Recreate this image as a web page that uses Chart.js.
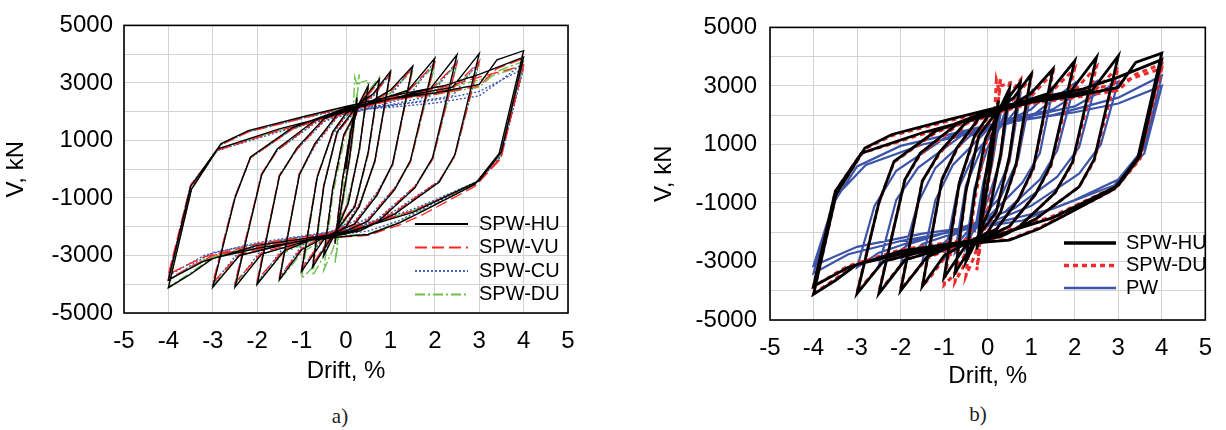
<!DOCTYPE html>
<html>
<head>
<meta charset="utf-8">
<script src="https://cdn.jsdelivr.net/npm/chart.js@4.4.1/dist/chart.umd.min.js"></script>
<style>
html, body { margin: 0; padding: 0; background: #fff; }
body { width: 1226px; height: 430px; position: relative; overflow: hidden; }
canvas { position: absolute; top: 0; }
#chartA { left: 0; width: 600px; height: 400px; }
#chartB { left: 620px; width: 606px; height: 400px; }
.cap { position: absolute; width: 60px; text-align: center; font-family: 'Liberation Serif', 'Times New Roman', serif; font-size: 21px; line-height: 24px; color: #222; }
</style>
</head>
<body>
<canvas id="chartA" width="600" height="400"></canvas>
<canvas id="chartB" width="606" height="400"></canvas>
<div class="cap" style="left:310px; top:404px;">a)</div>
<div class="cap" style="left:948px; top:402px;">b)</div>
<script>
'use strict';

// drift (%) / shear (kN)
const xTicks = [-5, -4, -3, -2, -1, 0, 1, 2, 3, 4, 5];
const yTickLabels = [5000, 3000, 1000, -1000, -3000, -5000];

const spwHU = [
  [0,0],[0.12,1400],[0.25,2500],[0.08,400],[-0.1,-1300],[-0.25,-2600],[-0.08,-400],[0.1,1300],
  [0.3,2300],[0.5,2900],[0.3,700],[0.05,-1200],[-0.3,-2400],[-0.5,-3000],[-0.3,-700],[-0.05,1200],
  [0.35,2350],[0.75,3130],[0.5,600],[0.2,-1300],[-0.3,-2300],[-0.75,-3400],[-0.5,-600],[-0.2,1300],
  [0.3,2300],[0.6,2600],[1.0,3400],[0.65,300],[0.3,-1300],[0,-2000],[-0.5,-2450],[-1.0,-3550],[-0.65,-300],[-0.3,1300],[0,1950],
  [0.5,2300],[1.0,2750],[1.5,3580],[1.05,200],[0.7,-900],[0.2,-1900],[-0.4,-2300],[-1.0,-2800],[-1.5,-3850],[-1.05,-200],[-0.7,900],[-0.2,1900],
  [0.6,2350],[1.4,2750],[2.0,3860],[1.45,300],[1.1,-700],[0.5,-1800],[0,-2150],[-0.7,-2400],[-1.4,-2850],[-2.0,-4000],[-1.5,-250],[-1.1,750],[-0.5,1750],[0,2050],
  [0.9,2400],[1.9,2800],[2.5,3980],[1.95,400],[1.55,-650],[0.7,-1850],[0,-2250],[-0.9,-2500],[-1.9,-2950],[-2.5,-4100],[-1.9,-200],[-1.55,700],[-0.7,1700],[0,2100],
  [1.0,2450],[2.4,2850],[3.0,4020],[2.45,500],[2.1,-450],[1.1,-1550],[0.3,-2150],[-1.2,-2550],[-2.4,-3000],[-3.0,-4100],[-2.5,-1000],[-2.15,425],[-1.2,1450],[0,2130],
  [1.0,2450],[2.0,2650],[3.0,2950],[3.4,3800],[4.0,4120],[3.45,550],[2.9,-530],[1.7,-1480],[1.18,-1880],[0.5,-2270],[0,-2330],[-1.0,-2500],[-2.0,-2750],[-3.0,-3100],[-3.5,-3650],[-4.0,-4120],[-3.48,-700],[-2.82,880],[-2.2,1340],[-0.9,1850],[0,2180],
  [1.2,2600],[2.2,2900],[3.0,3300],[4.0,3900],[3.5,600],[3.0,-400],[1.5,-1500],[0,-2200],[-2.0,-2650],[-3.2,-3200],[-4.0,-3850],[-3.5,-600],[-2.9,700],[-1.5,1400],[0,2000]
];

const spwVU = [
  [0,0],[0.12,1300],[0.25,2450],[0.08,350],[-0.1,-1250],[-0.25,-2500],[-0.08,-350],[0.1,1250],
  [0.3,2250],[0.5,2850],[0.3,650],[0.05,-1150],[-0.3,-2350],[-0.5,-2950],[-0.3,-650],[-0.05,1150],
  [0.35,2300],[0.75,3050],[0.5,550],[0.2,-1250],[-0.3,-2250],[-0.75,-3300],[-0.5,-550],[-0.2,1250],
  [0.3,2250],[0.6,2550],[1.0,3300],[0.65,250],[0.3,-1250],[0,-1950],[-0.5,-2400],[-1.0,-3450],[-0.65,-250],[-0.3,1250],[0,1900],
  [0.5,2250],[1.0,2700],[1.5,3500],[1.05,150],[0.7,-850],[0.2,-1850],[-0.4,-2250],[-1.0,-2750],[-1.5,-3750],[-1.05,-150],[-0.7,850],[-0.2,1850],
  [0.6,2300],[1.4,2700],[2.0,3700],[1.45,250],[1.1,-650],[0.5,-1750],[0,-2100],[-0.7,-2350],[-1.4,-2800],[-2.0,-3850],[-1.5,-200],[-1.1,700],[-0.5,1700],[0,2000],
  [0.9,2350],[1.9,2750],[2.5,3700],[1.95,350],[1.55,-600],[0.7,-1800],[0,-2200],[-0.9,-2450],[-1.9,-2900],[-2.5,-3950],[-1.9,-150],[-1.55,650],[-0.7,1650],[0,2050],
  [1.0,2400],[2.4,2800],[3.0,3750],[2.45,450],[2.1,-400],[1.1,-1500],[0.3,-2100],[-1.2,-2500],[-2.4,-2950],[-3.0,-3950],[-2.5,-950],[-2.15,400],[-1.2,1400],[0,2080],
  [1.0,2400],[2.0,2600],[3.0,2900],[3.4,3500],[4.0,3850],[3.45,300],[2.9,-600],[1.7,-1600],[1.18,-1950],[0.5,-2300],[0,-2350],[-1.0,-2450],[-2.0,-2700],[-3.0,-3000],[-3.5,-3400],[-4.0,-3800],[-3.48,-650],[-2.82,850],[-2.2,1300],[-0.9,1800],[0,2150],
  [1.2,2550],[2.2,2850],[3.0,3200],[4.0,3600],[3.5,450],[3.0,-450],[1.5,-1450],[0,-2150],[-2.0,-2600],[-3.2,-3050],[-4.0,-3650],[-3.5,-550],[-2.9,650],[-1.5,1350],[0,1950]
];

const spwCU = [
  [0,0],[0.12,1300],[0.25,2400],[0.08,350],[-0.1,-1250],[-0.25,-2500],[-0.08,-350],[0.1,1250],
  [0.3,2200],[0.5,2850],[0.3,650],[0.05,-1150],[-0.3,-2300],[-0.5,-2950],[-0.3,-650],[-0.05,1150],
  [0.35,2250],[0.75,3100],[0.5,550],[0.2,-1250],[-0.3,-2250],[-0.75,-3350],[-0.5,-550],[-0.2,1250],
  [0.3,2200],[0.6,2500],[1.0,3350],[0.65,250],[0.3,-1200],[0,-1900],[-0.5,-2350],[-1.0,-3500],[-0.65,-250],[-0.3,1200],[0,1850],
  [0.5,2150],[1.0,2550],[1.5,3550],[1.05,150],[0.7,-800],[0.2,-1800],[-0.4,-2200],[-1.0,-2650],[-1.5,-3800],[-1.05,-150],[-0.7,800],[-0.2,1800],
  [0.6,2150],[1.4,2500],[2.0,3750],[1.45,250],[1.1,-650],[0.5,-1700],[0,-2050],[-0.7,-2300],[-1.4,-2700],[-2.0,-3950],[-1.5,-200],[-1.1,700],[-0.5,1650],[0,1950],
  [0.9,2200],[1.9,2550],[2.5,3750],[1.95,350],[1.55,-600],[0.7,-1750],[0,-2150],[-0.9,-2400],[-1.9,-2800],[-2.5,-4000],[-1.9,-150],[-1.55,650],[-0.7,1600],[0,2000],
  [1.0,2200],[2.4,2550],[3.0,3750],[2.45,450],[2.1,-400],[1.1,-1450],[0.3,-2050],[-1.2,-2400],[-2.4,-2850],[-3.0,-4000],[-2.5,-950],[-2.15,400],[-1.2,1400],[0,2050],
  [1.0,2150],[2.0,2300],[3.0,2550],[3.5,3100],[4.0,3700],[3.45,400],[2.9,-500],[1.7,-1400],[1.18,-1800],[0.5,-2150],[0,-2250],[-1.0,-2350],[-2.0,-2600],[-3.0,-2900],[-3.5,-3350],[-4.0,-3900],[-3.48,-650],[-2.82,850],[-2.2,1300],[-0.9,1800],[0,2100],
  [1.2,2250],[2.2,2450],[3.0,2700],[4.0,3500],[3.5,450],[3.0,-400],[1.5,-1400],[0,-2100],[-2.0,-2550],[-3.2,-3000],[-4.0,-3700],[-3.5,-550],[-2.9,650],[-1.5,1300],[0,1950]
];

const spwDU = [
  [0,0],[0.15,1800],[0.2,3200],[0.25,2900],[0.3,3300],[0.15,1000],[-0.1,-1500],[-0.2,-2800],[-0.25,-3300],[-0.1,-1200],[0.1,1500],
  [0.3,3000],[0.5,3100],[0.45,2600],[0.3,600],[0,-1300],[-0.3,-2800],[-0.5,-3500],[-0.3,-900],[0,1300],
  [0.4,2500],[0.75,3200],[0.5,500],[0.2,-1300],[-0.3,-2400],[-0.6,-3300],[-0.75,-3700],[-0.5,-600],[-0.2,1300],
  [0.3,2250],[0.6,2550],[1.0,3300],[0.65,250],[0.3,-1300],[0,-2000],[-0.5,-2700],[-0.8,-3500],[-1.0,-3800],[-0.65,-300],[-0.3,1250],[0,1900],
  [0.5,2250],[1.0,2650],[1.5,3450],[1.05,150],[0.7,-900],[0.2,-1900],[-0.4,-2350],[-1.0,-2900],[-1.3,-3500],[-1.5,-3850],[-1.05,-200],[-0.7,850],[-0.2,1850],
  [0.6,2300],[1.4,2700],[2.0,3600],[1.45,250],[1.1,-700],[0.5,-1800],[0,-2150],[-0.7,-2450],[-1.4,-2900],[-2.0,-3950],[-1.5,-250],[-1.1,700],[-0.5,1700],[0,2000],
  [0.9,2350],[1.9,2700],[2.5,3650],[1.95,350],[1.55,-650],[0.7,-1850],[0,-2250],[-0.9,-2500],[-1.9,-2950],[-2.5,-4050],[-1.9,-200],[-1.55,650],[-0.7,1650],[0,2050],
  [1.0,2400],[2.4,2750],[3.0,3650],[2.45,450],[2.1,-450],[1.1,-1550],[0.3,-2150],[-1.2,-2550],[-2.4,-3000],[-3.0,-4050],[-2.5,-1000],[-2.15,400],[-1.2,1400],[0,2100],
  [1.0,2400],[2.0,2600],[3.0,2850],[3.4,3400],[4.0,3750],[3.45,450],[2.9,-550],[1.7,-1450],[1.18,-1850],[0.5,-2250],[0,-2300],[-1.0,-2450],[-2.0,-2700],[-3.0,-3050],[-3.5,-3600],[-4.0,-4100],[-3.48,-700],[-2.82,850],[-2.2,1300],[-0.9,1800],[0,2150],
  [1.2,2500],[2.2,2800],[3.0,3100],[4.0,3600],[3.5,500],[3.0,-400],[1.5,-1450],[0,-2150],[-2.0,-2600],[-3.2,-3150],[-4.0,-3850],[-3.5,-600],[-2.9,700],[-1.5,1350],[0,1950]
];

const pw = [
  [0,0],[0.15,1200],[0.3,2100],[0.1,300],[-0.1,-900],[-0.3,-2000],[-0.1,-300],[0.1,900],
  [0.5,2500],[0.3,500],[0,-900],[-0.5,-2500],[-0.3,-500],[0,900],
  [0.4,2000],[0.75,2700],[0.5,400],[0.1,-1000],[-0.75,-2700],[-0.5,-400],[-0.1,1000],
  [0.5,1900],[1.0,2800],[0.7,500],[0.3,-800],[-0.3,-1700],[-1.0,-2900],[-0.7,-600],[-0.3,700],[0.3,1700],
  [1.0,2200],[1.5,2900],[1.2,700],[0.8,-300],[0,-1500],[-0.8,-2100],[-1.5,-3000],[-1.2,-900],[-0.8,300],[0,1500],
  [1.0,1950],[2.0,3100],[1.6,800],[1.2,-200],[0.4,-1300],[-0.5,-1900],[-1.5,-2400],[-2.0,-3100],[-1.6,-1000],[-1.2,200],[-0.4,1300],[0.5,1850],
  [1.5,2200],[2.5,3150],[2.1,900],[1.6,-100],[0.6,-1200],[-0.6,-1850],[-1.8,-2400],[-2.5,-3150],[-2.1,-900],[-1.6,200],[-0.6,1300],[0.6,1850],
  [2.0,2300],[3.0,3150],[2.6,1000],[2.1,0],[1.0,-1100],[0,-1700],[-1.5,-2200],[-2.5,-2700],[-3.0,-3200],[-2.6,-1100],[-2.1,100],[-1.0,1200],[0,1650],
  [1.5,2000],[3.0,2600],[4.0,3350],[3.6,900],[3.0,-200],[2.0,-900],[0.8,-1600],[-0.5,-1900],[-2.0,-2300],[-3.2,-2750],[-4.0,-3400],[-3.5,-900],[-3.0,250],[-2.0,950],[0,1650],
  [2.0,2100],[3.0,2400],[4.0,3000],[3.6,700],[2.9,-400],[1.5,-1200],[0,-1750],[-1.5,-2050],[-3.0,-2500],[-4.0,-3150],[-3.5,-800],[-2.8,300],[-1.5,1000],[0,1500]
];

const FONT = "'Liberation Sans', Arial, sans-serif";

function toXY(pts) {
  return pts.map(p => ({ x: p[0], y: p[1] }));
}

// plot frame on all four sides
const framePlugin = {
  id: 'frame',
  afterDraw(chart) {
    const a = chart.chartArea;
    const ctx = chart.ctx;
    ctx.save();
    ctx.strokeStyle = '#000';
    ctx.lineWidth = 1.6;
    ctx.strokeRect(a.left, a.top, a.right - a.left, a.bottom - a.top);
    ctx.restore();
  }
};

// legend drawn inside the plot, lower right
const insideLegend = {
  id: 'insideLegend',
  afterDraw(chart, args, opts) {
    const ctx = chart.ctx;
    ctx.save();
    chart.data.datasets.forEach((ds, i) => {
      const y = opts.top + i * opts.step;
      ctx.beginPath();
      ctx.strokeStyle = ds.borderColor;
      ctx.lineWidth = ds.legendWidth || ds.borderWidth;
      ctx.setLineDash(ds.borderDash || []);
      ctx.moveTo(opts.x1, y);
      ctx.lineTo(opts.x2, y);
      ctx.stroke();
      ctx.setLineDash([]);
      ctx.fillStyle = '#000';
      ctx.font = '20px ' + FONT;
      ctx.textBaseline = 'middle';
      ctx.textAlign = 'left';
      ctx.fillText(ds.label, opts.textX, y);
    });
    ctx.restore();
  }
};

function makeChart(id, datasets, g) {
  new Chart(document.getElementById(id), {
    type: 'scatter',
    data: { datasets: datasets },
    options: {
      responsive: false,
      animation: false,
      devicePixelRatio: 1,
      layout: { padding: { left: 0, right: g.padRight, top: g.padTop, bottom: 0 } },
      elements: { point: { radius: 0, hoverRadius: 0 }, line: { tension: 0 } },
      plugins: {
        legend: { display: false },
        tooltip: { enabled: false },
        insideLegend: g.legend
      },
      scales: {
        x: {
          type: 'linear', min: -5, max: 5,
          afterFit(scale) { scale.height = g.xHeight; },
          afterBuildTicks(scale) { scale.ticks = xTicks.map(v => ({ value: v })); },
          ticks: { autoSkip: false, maxRotation: 0, padding: 14, color: '#000', font: { family: FONT, size: 24 }, callback: v => String(v) },
          grid: { color: '#d2d2d2', lineWidth: 1, drawTicks: false },
          border: { display: false },
          title: { display: true, text: 'Drift, %', color: '#000', font: { family: FONT, size: 24 }, padding: { top: 0, bottom: g.xTitlePad } }
        },
        y: {
          type: 'linear', min: -5000, max: 5000,
          afterFit(scale) { scale.width = g.yWidth; },
          ticks: { stepSize: 1000, autoSkip: false, padding: g.yTickPad, color: '#000', font: { family: FONT, size: 24 },
            callback: v => yTickLabels.includes(v) ? String(v) : '' },
          grid: { color: '#d2d2d2', lineWidth: 1, drawTicks: false },
          border: { display: false },
          title: { display: true, text: 'V, kN', color: '#000', font: { family: FONT, size: 24 }, padding: { top: g.yTitlePad, bottom: 0 } }
        }
      }
    },
    plugins: [framePlugin, insideLegend]
  });
}

const line = (label, pts, color, width, dash, legendWidth) => ({
  label: label,
  data: toXY(pts),
  showLine: true,
  fill: false,
  borderColor: color,
  backgroundColor: color,
  borderWidth: width,
  borderDash: dash,
  legendWidth: legendWidth,
  pointRadius: 0
});

makeChart('chartA', [
  line('SPW-HU', spwHU, '#000000', 1.4, [], 2.2),
  line('SPW-VU', spwVU, '#ff2424', 1.3, [12, 5], 1.8),
  line('SPW-CU', spwCU, '#3a56b0', 1.4, [2, 2], 1.8),
  line('SPW-DU', spwDU, '#6cc04a', 1.4, [10, 3, 2, 3], 1.8)
], {
  padRight: 32, padTop: 18, xHeight: 87, yWidth: 124, yTickPad: 11,
  xTitlePad: 14, yTitlePad: 2,
  legend: { x1: 415, x2: 468, textX: 479, top: 224, step: 23.5 }
});

makeChart('chartB', [
  line('SPW-HU', spwHU, '#000000', 2.8, [], 3.4),
  line('SPW-DU', spwDU, '#ee2a2a', 3, [5, 4], 3.4),
  line('PW', pw, '#3d55a8', 2.2, [], 2.4)
], {
  padRight: 14, padTop: 24, xHeight: 80, yWidth: 150, yTickPad: 13,
  xTitlePad: 9, yTitlePad: 30,
  legend: { x1: 444, x2: 496, textX: 506, top: 243, step: 22.5 }
});
</script>
</body>
</html>
